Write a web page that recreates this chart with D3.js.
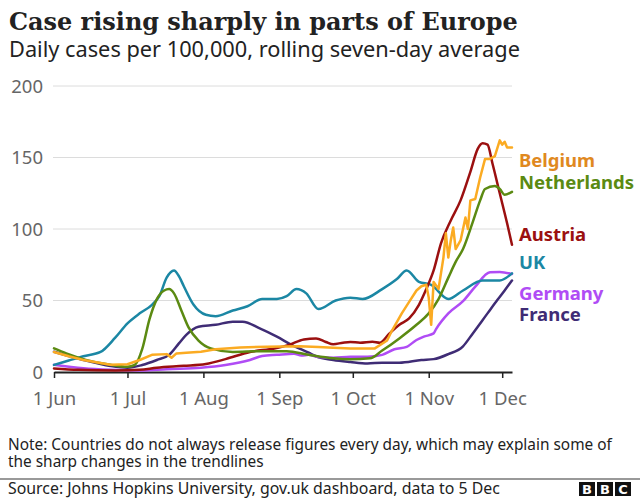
<!DOCTYPE html>
<html>
<head>
<meta charset="utf-8">
<script src="https://cdn.jsdelivr.net/npm/d3@7"></script>
<style>
  html, body { margin: 0; padding: 0; background: #fff; }
  svg { display: block; }
</style>
</head>
<body>
<svg id="chart" width="640" height="500"></svg>
<script>
// ---------- DATA ----------
const title = "Case rising sharply in parts of Europe";
const subtitle = "Daily cases per 100,000, rolling seven-day average";
const noteLines = ["Note: Countries do not always release figures every day, which may explain some of",
                   "the sharp changes in the trendlines"];
const source = "Source: Johns Hopkins University, gov.uk dashboard, data to 5 Dec";

const yTicks = [0, 50, 100, 150, 200];
const xTickDates = ["2020-06-01","2020-07-01","2020-08-01","2020-09-01","2020-10-01","2020-11-01","2020-12-01"];
const xTickLabels = ["1 Jun","1 Jul","1 Aug","1 Sep","1 Oct","1 Nov","1 Dec"];
const countries = ["Belgium","Netherlands","Austria","UK","Germany","France"];

// [day offset from 1 Jun 2020, cases per 100,000]
const uk = [[0,5],[6,8],[12,11],[19,14],[25,24],[30,34],[35,41],[40,47],[43,53],[46,66],[49,71],[51,67],[53,60],[57,47],[62,40],[66,39],[73,43],[79,46],[85,51],[91,51],[95,53],[99,58],[103,55],[108,44],[115,50],[121,52],[126,51],[134,58],[140,65],[144,71],[149,63],[154,61],[161,51],[167,57],[175,64],[182,64],[187,69]];
const netherlands = [[0,16.5],[5,13],[13,8.5],[23,5],[30,3.7],[33,5],[36,16],[39,37],[42,51],[45,57],[47,58],[49,55],[52,43],[55,31],[59,22],[64,16.5],[73,14],[84,14.5],[95,14.5],[104,12],[114,9.6],[121,9],[129,9.6],[134,15],[141,23.5],[148,33],[153,41],[157,51],[161,66],[164,77],[167,86],[171,105],[174,120],[176,128],[180,130],[182,128],[184,124],[187,126]];
const belgium = [[0,14],[6,11],[12,8.4],[23,5],[30,5.4],[35,8.4],[40,12],[46,12.5],[48,10],[50,13],[54,13.5],[60,14.2],[66,15.9],[76,17.2],[87,17.6],[100,18],[108,17.5],[114,17],[121,16.5],[131,16.5],[136,22],[138,29],[142,41],[145,49],[148,57],[150,60],[152,61],[153,52],[154,33],[155,63],[157,58],[159,80],[160,97],[161,80],[162,92],[163,101],[164,86],[166,92],[168,108],[169,100],[170,120],[172,121],[174,136],[176,149],[178,149],[180,151],[182,162],[183,159],[184,161],[185,157],[187,157]];
const austria = [[0,2.5],[10,1.5],[25,1],[35,1.5],[42,3],[53,4.3],[62,5.6],[70,9],[80,14],[90,16.5],[96,19],[102,22.8],[107,23.5],[111,21],[114,19.4],[118,20.5],[121,21],[125,20.5],[130,21.2],[133,20.5],[137,27],[141,33],[145,37.5],[149,47],[152,58],[155,71],[158,90],[162,106],[166,120],[170,140],[173,156],[175,160],[177,159],[179,146],[182,125],[185,104],[187,89]];
const germany = [[0,5],[12,2.6],[23,1.5],[36,1],[46,2],[60,3],[70,4.9],[80,8.4],[85,11.2],[91,12],[98,12.8],[101,11.5],[104,12],[108,10.5],[114,10],[121,10.7],[128,10.7],[134,12],[139,15.9],[144,17.6],[148,22.4],[151,24.7],[155,27],[156,30],[161,41],[167,49.5],[172,59.7],[178,69.7],[182,70],[187,68.5]];
const france = [[0,14.2],[12,8.4],[23,4.2],[30,3],[36,4.9],[42,8.4],[47,12],[51,20],[54,26],[59,31.7],[66,33],[73,35.2],[77,35.2],[84,30.5],[91,24.7],[97,19],[104,13.5],[107,11],[114,8.4],[121,7],[128,6],[134,6.5],[141,6.5],[150,8.4],[155,9],[161,12.5],[167,18],[171,27],[177,41],[181,50.3],[184,57],[187,64]];

// ---------- STYLE ----------
const lineColors = {Belgium:"#fbab22", Netherlands:"#5b8a12", Austria:"#9b1010", UK:"#1b87a4", Germany:"#b04cf5", France:"#3f2c75"};
const labelColors = {Belgium:"#e0891f", Netherlands:"#5b8a12", Austria:"#9b1010", UK:"#1b87a4", Germany:"#b04cf5", France:"#3f2c75"};
const labelY = {Belgium:166.5, Netherlands:188.5, Austria:240.5, UK:269, Germany:299.5, France:321};
const sans = "'Noto Sans', 'Open Sans', sans-serif";

const seriesMap = {Belgium:belgium, Netherlands:netherlands, Austria:austria, UK:uk, Germany:germany, France:france};
const drawOrder = ["France","Germany","UK","Austria","Netherlands","Belgium"];

const svg = d3.select("#chart");
const start = new Date(2020, 5, 1);
const dayToDate = d => d3.timeDay.offset(start, d);

const x = d3.scaleTime().domain([start, new Date(2020, 11, 5)]).range([54, 512]);
const y = d3.scaleLinear().domain([0, 200]).range([372, 86]);

function fitText(sel, target) {
  const fs = parseFloat(sel.attr("font-size"));
  const w = sel.node().getComputedTextLength();
  sel.attr("font-size", (fs * target / w).toFixed(2));
  return fs * target / w;
}

// Title & subtitle
const t = svg.append("text").attr("x", 9).attr("y", 30)
  .attr("font-family", "'DejaVu Serif', serif").attr("font-weight", "bold")
  .attr("font-size", 22).attr("fill", "#222").text(title);
fitText(t, 509);
const st = svg.append("text").attr("x", 9).attr("y", 57)
  .attr("font-family", sans).attr("font-size", 18).attr("fill", "#222").text(subtitle);
fitText(st, 511);

// Grid + y labels
const grid = svg.append("g");
yTicks.forEach(v => {
  if (v > 0) grid.append("line").attr("x1", 53).attr("x2", 512)
    .attr("y1", y(v)).attr("y2", y(v)).attr("stroke", "#dcdcdc").attr("stroke-width", 1);
  grid.append("text").attr("x", 43).attr("y", y(v) + 6.5).attr("text-anchor", "end")
    .attr("font-family", sans).attr("font-size", 18.5).attr("fill", "#666").text(v);
});

// X axis
const xa = svg.append("g").attr("transform", "translate(0,372)")
  .call(d3.axisBottom(x).tickValues(xTickDates.map(s => d3.timeParse("%Y-%m-%d")(s)))
    .tickFormat((d, i) => xTickLabels[i]).tickSize(6).tickPadding(14).tickSizeOuter(0));
xa.select(".domain").attr("stroke", "#222").attr("stroke-width", 2);
xa.selectAll(".tick line").attr("stroke", "#222").attr("stroke-width", 1.5);
xa.selectAll(".tick text").attr("font-family", sans).attr("font-size", 18.5).attr("fill", "#666")
  .attr("dy", "0.71em");

// Lines
drawOrder.forEach(c => {
  const line = d3.line()
    .x(d => x(dayToDate(d[0])))
    .y(d => y(d[1]))
    .curve(c === "Belgium" ? d3.curveLinear : d3.curveMonotoneX);
  svg.append("path").datum(seriesMap[c]).attr("d", line)
    .attr("fill", "none").attr("stroke", lineColors[c]).attr("stroke-width", 2.5)
    .attr("stroke-linejoin", "round").attr("stroke-linecap", "round");
});

// Labels
countries.forEach(c => {
  svg.append("text").attr("x", 519).attr("y", labelY[c])
    .attr("font-family", sans).attr("font-weight", "bold").attr("font-size", 18.5)
    .attr("fill", labelColors[c]).text(c);
});

// Note
const n1 = svg.append("text").attr("x", 8).attr("y", 450)
  .attr("font-family", sans).attr("font-size", 15).attr("fill", "#222").text(noteLines[0]);
const nfs = fitText(n1, 604);
svg.append("text").attr("x", 8).attr("y", 467)
  .attr("font-family", sans).attr("font-size", nfs.toFixed(2)).attr("fill", "#222").text(noteLines[1]);

// Footer
svg.append("line").attr("x1", 0).attr("x2", 640).attr("y1", 479).attr("y2", 479)
  .attr("stroke", "#999").attr("stroke-width", 2);
const src = svg.append("text").attr("x", 8).attr("y", 494)
  .attr("font-family", sans).attr("font-size", 15).attr("fill", "#222").text(source);
fitText(src, 492);

// BBC logo
["B","B","C"].forEach((ch, i) => {
  const bx = 579 + i * 18;
  svg.append("rect").attr("x", bx).attr("y", 482).attr("width", 16).attr("height", 14).attr("fill", "#111");
  svg.append("text").attr("x", bx + 8).attr("y", 494).attr("text-anchor", "middle")
    .attr("font-family", "'DejaVu Sans', sans-serif").attr("font-weight", "bold").attr("font-size", 13)
    .attr("fill", "#fff").text(ch);
});
</script>
</body>
</html>
